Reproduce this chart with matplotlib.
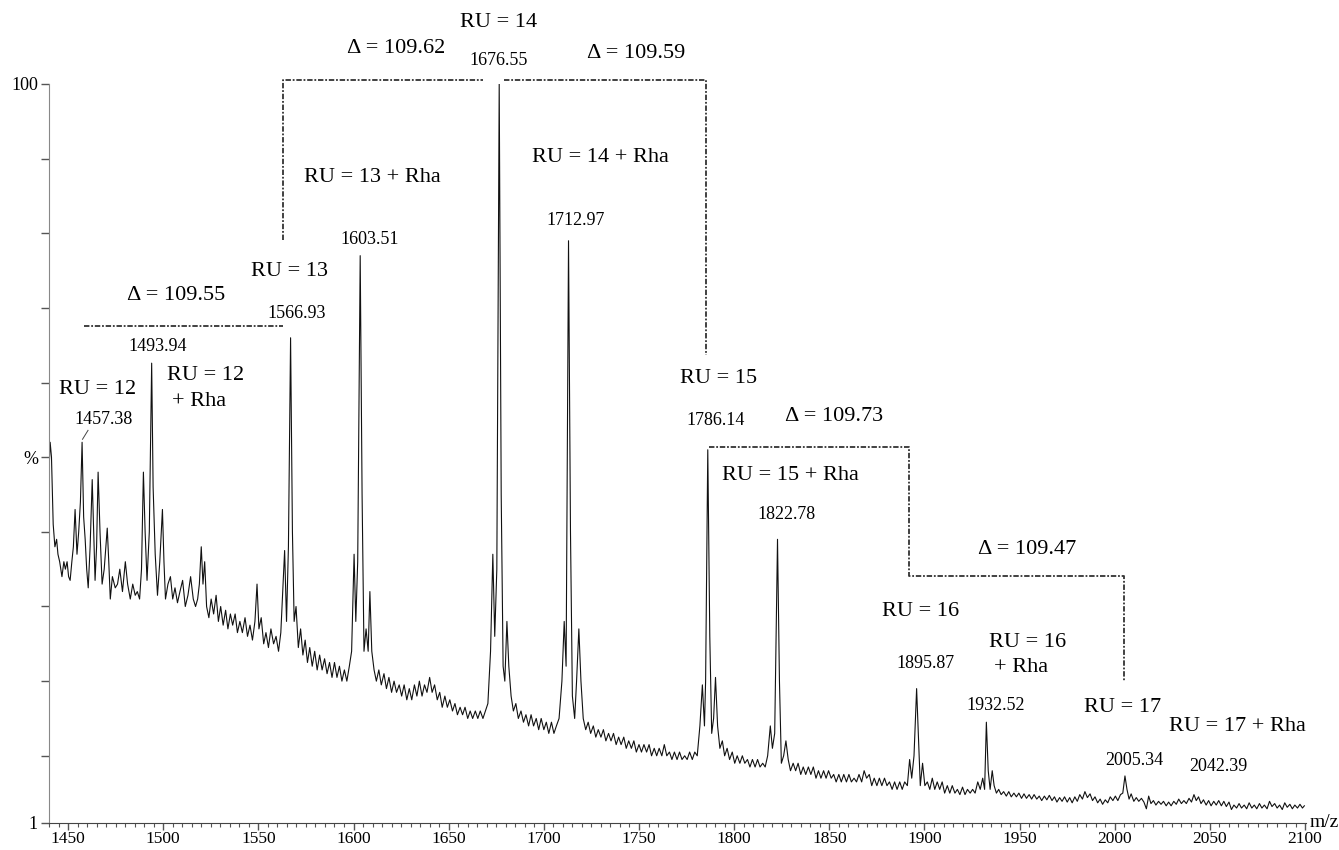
import numpy as np
import matplotlib
matplotlib.use('Agg')
from matplotlib import pyplot as plt
from matplotlib.ticker import MultipleLocator

plt.rcParams['font.family'] = ['Liberation Serif', 'DejaVu Serif']

# spectrum trace, (m/z, % intensity)
trace = [
    (1440.0, 48), (1440.6, 52), (1441.3, 50), (1442.2, 41), (1443.1, 38), (1444.0, 39), (1444.7, 37),
    (1445.6, 36), (1446.8, 34), (1447.8, 36), (1448.6, 35), (1449.5, 36), (1450.3, 34), (1451.1, 33.5),
    (1452.0, 36), (1452.8, 38), (1453.7, 43), (1454.7, 37), (1455.6, 40), (1456.5, 44), (1457.38, 52),
    (1458.2, 42), (1459.0, 39), (1459.8, 35), (1460.6, 32.5), (1461.6, 38), (1462.7, 47), (1463.5, 40),
    (1464.2, 33.5), (1465.0, 38), (1465.8, 48), (1466.8, 40), (1467.9, 33), (1469.0, 35), (1470.6, 40.5),
    (1471.4, 36), (1472.2, 31), (1473.3, 34), (1474.8, 32.5), (1476.0, 33), (1477.2, 35), (1478.6, 32),
    (1480.1, 36), (1481.3, 33), (1482.7, 31), (1484.0, 33), (1485.3, 31.5), (1486.4, 32), (1487.6, 31),
    (1488.6, 35), (1489.6, 48), (1490.5, 40), (1491.5, 33.5), (1492.7, 40), (1493.94, 62.6), (1494.7, 46),
    (1495.8, 37), (1497.0, 31.5), (1498.2, 36), (1499.6, 43), (1500.4, 36), (1501.2, 31), (1502.5, 33),
    (1503.8, 34), (1505.0, 31), (1506.2, 32.5), (1507.5, 30.5), (1508.8, 32), (1510.2, 33.5), (1511.6, 30),
    (1513.0, 31.5), (1514.4, 34), (1515.8, 31), (1517.0, 30), (1518.1, 31), (1519.0, 33),
    (1520.0, 38), (1520.9, 33), (1521.8, 36), (1522.8, 30), (1524.0, 28.5), (1525.2, 31), (1526.5, 29),
    (1527.8, 31.5), (1529.0, 28), (1530.2, 30), (1531.5, 27.5), (1532.8, 29.5), (1534.0, 27), (1535.3, 29),
    (1536.5, 27.5), (1537.8, 29), (1539.0, 26.5), (1540.3, 28), (1541.6, 26.5), (1543.0, 28.5), (1544.3, 26),
    (1545.6, 27.5), (1546.9, 25.5), (1548.2, 28), (1549.3, 33), (1550.3, 27), (1551.5, 28.5), (1552.8, 25),
    (1554.0, 26.5), (1555.3, 24.5), (1556.6, 27), (1558.0, 25), (1559.3, 26), (1560.6, 24), (1561.8, 26.5),
    (1563.0, 33), (1563.8, 37.5), (1564.8, 28), (1565.8, 38), (1566.93, 66), (1567.9, 40), (1568.8, 28),
    (1569.8, 30), (1571.0, 24.5), (1572.2, 27), (1573.4, 23.5), (1574.6, 25.5), (1575.8, 22.5), (1577.0, 24.5),
    (1578.3, 22), (1579.6, 24), (1580.9, 21.5), (1582.2, 23.5), (1583.5, 21.5), (1584.8, 23), (1586.1, 21),
    (1587.4, 22.5), (1588.7, 20.5), (1590.0, 22.5), (1591.3, 20.5), (1592.6, 22), (1593.9, 20), (1595.2, 21.5),
    (1596.5, 20), (1597.8, 22), (1599.0, 24), (1600.3, 37), (1601.2, 28), (1602.2, 36), (1603.51, 77),
    (1604.5, 45), (1605.5, 24), (1606.6, 27), (1607.7, 24), (1608.6, 32), (1609.6, 24), (1610.8, 21.5),
    (1612.0, 20), (1613.3, 21.5), (1614.6, 19.5), (1616.0, 21), (1617.3, 19), (1618.6, 20.5), (1620.0, 18.5),
    (1621.3, 20), (1622.6, 18.5), (1624.0, 19.5), (1625.3, 18), (1626.6, 19.5), (1628.0, 17.5), (1629.3, 19),
    (1630.6, 17.5), (1632.0, 19.5), (1633.3, 18), (1634.6, 20), (1636.0, 18), (1637.3, 19.5), (1638.6, 18.5),
    (1640.0, 20.5), (1641.3, 18.5), (1642.6, 19.5), (1644.0, 17.5), (1645.3, 18.5), (1646.6, 16.5), (1648.0, 18),
    (1649.3, 16.5), (1650.6, 17.5), (1652.0, 16), (1653.3, 17), (1654.6, 15.5), (1656.0, 16.5), (1657.3, 15.5),
    (1658.6, 16.5), (1660.0, 15), (1661.3, 16), (1662.6, 15), (1664.0, 16), (1665.3, 15), (1666.6, 16),
    (1668.0, 15), (1669.3, 16), (1670.6, 17), (1672.0, 24), (1673.2, 37), (1674.2, 26), (1675.3, 35),
    (1676.55, 100), (1677.6, 45), (1678.6, 22), (1679.5, 20), (1680.6, 28), (1681.6, 22), (1682.8, 18),
    (1684.0, 16), (1685.3, 17), (1686.6, 15), (1688.0, 16), (1689.3, 14.5), (1690.6, 15.5), (1692.0, 14),
    (1693.3, 15.5), (1694.6, 14), (1696.0, 15), (1697.3, 13.5), (1698.6, 15), (1700.0, 13.5), (1701.3, 14.5),
    (1702.6, 13), (1704.0, 14.5), (1705.3, 13), (1706.6, 14), (1708.0, 15), (1709.5, 20), (1710.7, 28),
    (1711.7, 22), (1712.97, 79), (1714.0, 40), (1715.0, 18), (1716.2, 15), (1717.2, 20), (1718.4, 27),
    (1719.5, 20), (1720.7, 15), (1722.0, 13.5), (1723.3, 14.5), (1724.6, 13), (1726.0, 14), (1727.3, 12.5),
    (1728.6, 13.5), (1730.0, 12.5), (1731.3, 13.5), (1732.6, 12), (1734.0, 13), (1735.3, 12), (1736.6, 13),
    (1738.0, 11.5), (1739.3, 12.5), (1740.6, 11.5), (1742.0, 12.5), (1743.3, 11), (1744.6, 12), (1746.0, 11),
    (1747.3, 12), (1748.6, 10.5), (1750.0, 11.5), (1751.3, 10.5), (1752.6, 11.5), (1754.0, 10.5), (1755.3, 11.5),
    (1756.6, 10), (1758.0, 11), (1759.3, 10), (1760.6, 11), (1762.0, 10), (1763.3, 11.5), (1764.6, 10),
    (1766.0, 10.5), (1767.3, 9.5), (1768.6, 10.5), (1770.0, 9.5), (1771.3, 10.5), (1772.6, 9.5), (1774.0, 10),
    (1775.3, 9.5), (1776.6, 10.5), (1778.0, 9.5), (1779.3, 10.5), (1780.6, 10), (1782.0, 14), (1783.3, 19.5),
    (1784.4, 14), (1785.0, 20), (1786.14, 51), (1787.2, 26), (1788.2, 13), (1789.2, 15), (1790.2, 20.5),
    (1791.3, 14), (1792.5, 11), (1793.8, 12), (1795.0, 10), (1796.3, 11), (1797.6, 9.5), (1799.0, 10.5),
    (1800.3, 9), (1801.6, 10), (1803.0, 9), (1804.3, 10), (1805.6, 9), (1807.0, 9.5), (1808.3, 8.5),
    (1809.6, 9.5), (1811.0, 8.5), (1812.3, 9.5), (1813.6, 8.5), (1815.0, 9), (1816.3, 8.5), (1817.6, 10),
    (1819.0, 14), (1820.1, 11), (1821.3, 13), (1822.78, 39), (1823.8, 20), (1824.8, 9), (1826.0, 10),
    (1827.2, 12), (1828.4, 9.5), (1829.6, 8), (1831.0, 9), (1832.3, 8), (1833.6, 9), (1835.0, 7.5),
    (1836.3, 8.5), (1837.6, 7.5), (1839.0, 8.5), (1840.3, 7.5), (1841.6, 8.5), (1843.0, 7), (1844.3, 8),
    (1845.6, 7), (1847.0, 8), (1848.3, 7), (1849.6, 8), (1851.0, 7), (1852.3, 7.5), (1853.6, 6.5),
    (1855.0, 7.5), (1856.3, 6.5), (1857.6, 7.5), (1859.0, 6.5), (1860.3, 7.5), (1861.6, 6.5), (1863.0, 7),
    (1864.3, 6.5), (1865.6, 7.5), (1867.0, 6.5), (1868.3, 8), (1869.6, 7), (1871.0, 7.5), (1872.3, 6),
    (1873.6, 7), (1875.0, 6), (1876.3, 7), (1877.6, 6), (1879.0, 7), (1880.3, 6), (1881.6, 6.5),
    (1883.0, 5.5), (1884.3, 6.5), (1885.6, 5.5), (1887.0, 6.5), (1888.3, 5.5), (1889.6, 6.5), (1891.0, 6),
    (1892.2, 9.5), (1893.3, 7), (1894.5, 10), (1895.87, 19), (1896.9, 12), (1897.8, 6), (1899.0, 9),
    (1900.2, 6), (1901.5, 6.5), (1902.8, 5.5), (1904.1, 7), (1905.4, 5.5), (1906.7, 6.5), (1908.0, 5.5),
    (1909.3, 6.5), (1910.6, 5), (1912.0, 6), (1913.3, 5), (1914.6, 6), (1916.0, 5), (1917.3, 5.5),
    (1918.6, 4.8), (1920.0, 5.8), (1921.3, 4.8), (1922.6, 5.5), (1924.0, 5), (1925.3, 5.5), (1926.6, 5),
    (1928.0, 6.5), (1929.3, 5.5), (1930.6, 7), (1931.6, 5.5), (1932.52, 14.5), (1933.5, 8), (1934.5, 5.5),
    (1935.6, 8), (1936.6, 6), (1937.8, 5), (1939.0, 5.5), (1940.3, 4.8), (1941.6, 5.2), (1943.0, 4.6),
    (1944.3, 5.2), (1945.6, 4.5), (1947.0, 5), (1948.3, 4.5), (1949.6, 5), (1951.0, 4.3), (1952.3, 4.9),
    (1953.6, 4.3), (1955.0, 4.8), (1956.3, 4.2), (1957.6, 4.8), (1959.0, 4.2), (1960.3, 4.6), (1961.6, 4.0),
    (1963.0, 4.6), (1964.3, 4.1), (1965.6, 4.7), (1967.0, 4.0), (1968.3, 4.5), (1969.6, 3.8), (1971.0, 4.4),
    (1972.3, 3.9), (1973.6, 4.5), (1975.0, 3.8), (1976.3, 4.4), (1977.6, 3.7), (1979.0, 4.5), (1980.3, 3.9),
    (1981.6, 4.8), (1983.0, 4.2), (1984.3, 5.2), (1985.6, 4.4), (1987.0, 4.9), (1988.3, 4.0), (1989.6, 4.5),
    (1991.0, 3.7), (1992.3, 4.2), (1993.6, 3.5), (1995.0, 4.1), (1996.3, 3.7), (1997.6, 4.5), (1999.0, 4.0),
    (2000.3, 4.6), (2001.6, 4.0), (2003.0, 4.8), (2004.2, 5.0), (2005.34, 7.3), (2006.4, 5.5), (2007.5, 4.2),
    (2008.6, 4.9), (2010.0, 3.9), (2011.3, 4.4), (2012.6, 3.9), (2014.0, 4.3), (2015.3, 3.8), (2016.6, 2.9),
    (2017.8, 4.6), (2019.0, 3.6), (2020.3, 4.0), (2021.6, 3.4), (2023.0, 3.9), (2024.3, 3.5), (2025.6, 3.9),
    (2027.0, 3.3), (2028.3, 3.8), (2029.6, 3.3), (2031.0, 3.9), (2032.3, 3.5), (2033.6, 4.2), (2035.0, 3.6),
    (2036.3, 4.0), (2037.6, 3.6), (2039.0, 4.3), (2040.3, 3.8), (2041.6, 4.8), (2042.8, 4.0), (2044.0, 4.5),
    (2045.3, 3.6), (2046.6, 4.1), (2048.0, 3.4), (2049.3, 4.0), (2050.6, 3.3), (2052.0, 3.9), (2053.3, 3.4),
    (2054.6, 4.0), (2056.0, 3.3), (2057.3, 3.9), (2058.6, 3.2), (2060.0, 3.8), (2061.3, 2.8), (2062.6, 3.4),
    (2064.0, 3.0), (2065.3, 3.6), (2066.6, 3.0), (2068.0, 3.4), (2069.3, 2.9), (2070.6, 3.7), (2072.0, 3.0),
    (2073.3, 3.4), (2074.6, 2.9), (2076.0, 3.6), (2077.3, 3.0), (2078.6, 3.4), (2080.0, 2.9), (2081.3, 3.9),
    (2082.6, 3.2), (2084.0, 3.6), (2085.3, 3.0), (2086.6, 3.4), (2088.0, 2.8), (2089.3, 3.7), (2090.6, 3.1),
    (2092.0, 3.5), (2093.3, 2.9), (2094.6, 3.4), (2096.0, 3.0), (2097.3, 3.5), (2098.6, 3.0), (2099.6, 3.3),
]
mz = np.array([p[0] for p in trace])
inten = np.array([p[1] for p in trace])

# labelled peaks: m/z label text and where it sits (x, y in data units)
peak_labels = ['1457.38', '1493.94', '1566.93', '1603.51', '1676.55', '1712.97',
               '1786.14', '1822.78', '1895.87', '1932.52', '2005.34', '2042.39']
peak_label_x = [1468.5, 1497.0, 1570.3, 1608.3, 1676.4, 1716.5,
                1790.4, 1827.3, 1900.7, 1937.6, 2010.4, 2054.2]
peak_label_y = [55.0, 64.8, 69.2, 79.1, 103.1, 81.7,
                54.9, 42.3, 22.4, 16.8, 9.4, 8.5]

ru_labels = ['RU = 12', 'RU = 12', '+ Rha', 'RU = 13', 'RU = 13 + Rha', 'RU = 14',
             'RU = 14 + Rha', 'RU = 15', 'RU = 15 + Rha', 'RU = 16', 'RU = 16', '+ Rha',
             'RU = 17', 'RU = 17 + Rha']
ru_x = [1465.3, 1522.3, 1519.1, 1566.6, 1609.9, 1676.4,
        1729.7, 1792.0, 1829.4, 1898.0, 1954.0, 1950.8,
        2004.1, 2064.2]
ru_y = [59.1, 61.0, 57.4, 74.9, 87.5, 108.3,
        90.2, 60.6, 47.5, 29.3, 25.2, 21.8,
        16.5, 13.9]

delta_labels = ['\u0394 = 109.55', '\u0394 = 109.62', '\u0394 = 109.59', '\u0394 = 109.73', '\u0394 = 109.47']
delta_x = [1507.0, 1622.6, 1748.7, 1852.6, 1954.0]
delta_y = [71.7, 104.8, 104.1, 55.5, 37.6]

# dash-dot brackets linking the repeat units
brackets = [
    ([1458.4, 1563.0], [67.6, 67.6]),
    ([1563.0, 1563.0, 1668.1], [79.1, 100.5, 100.5]),
    ([1679.1, 1785.2, 1785.2], [100.5, 100.5, 63.7]),
    ([1786.8, 1891.9, 1891.9, 2004.8, 2004.8], [51.4, 51.4, 34.1, 34.1, 19.9]),
]

fig = plt.figure(figsize=(13.39, 8.5), dpi=100)
ax = fig.add_axes([0.0366, 0.0318, 0.9388, 0.8694])

ax.plot(mz, inten, color='#111111', lw=0.8)

for xs, ys in brackets:
    ax.plot(xs, ys, color='#333333', lw=1.3, linestyle=(0, (3, 1, 1, 1)), clip_on=False)
# leader from the 1457.38 label down to its peak
ax.plot([1460.5, 1457.6], [53.6, 52.4], color='#444444', lw=0.7)

for t, x, y in zip(peak_labels, peak_label_x, peak_label_y):
    ax.text(x, y, t, ha='center', va='center', fontsize=13, clip_on=False)
for t, x, y in zip(ru_labels, ru_x, ru_y):
    ax.text(x, y, t, ha='center', va='center', fontsize=16, clip_on=False)
for t, x, y in zip(delta_labels, delta_x, delta_y):
    ax.text(x, y, t, ha='center', va='center', fontsize=16, clip_on=False)

ax.set_xlim(1440, 2100.5)
ax.set_ylim(1, 100)
ax.spines['top'].set_visible(False)
ax.spines['right'].set_visible(False)
ax.spines['left'].set_color('#888888')
ax.spines['bottom'].set_color('#444444')

ax.xaxis.set_major_locator(MultipleLocator(50))
ax.xaxis.set_minor_locator(MultipleLocator(5))
ax.tick_params(axis='x', which='major', length=5, width=1, color='#555555', labelsize=12.5, pad=1)
ax.tick_params(axis='x', which='minor', length=3, width=0.8, color='#555555')

ax.set_yticks([1, 10, 20, 30, 40, 50, 60, 70, 80, 90, 100])
ax.set_yticklabels(['1', '', '', '', '', '%', '', '', '', '', '100'])
ax.tick_params(axis='y', length=6, width=1, color='#555555', labelsize=13, pad=2)

ax.text(1.003, 0.0, 'm/z', transform=ax.transAxes, ha='left', va='center', fontsize=14)

fig.savefig('out.png', dpi=100)
